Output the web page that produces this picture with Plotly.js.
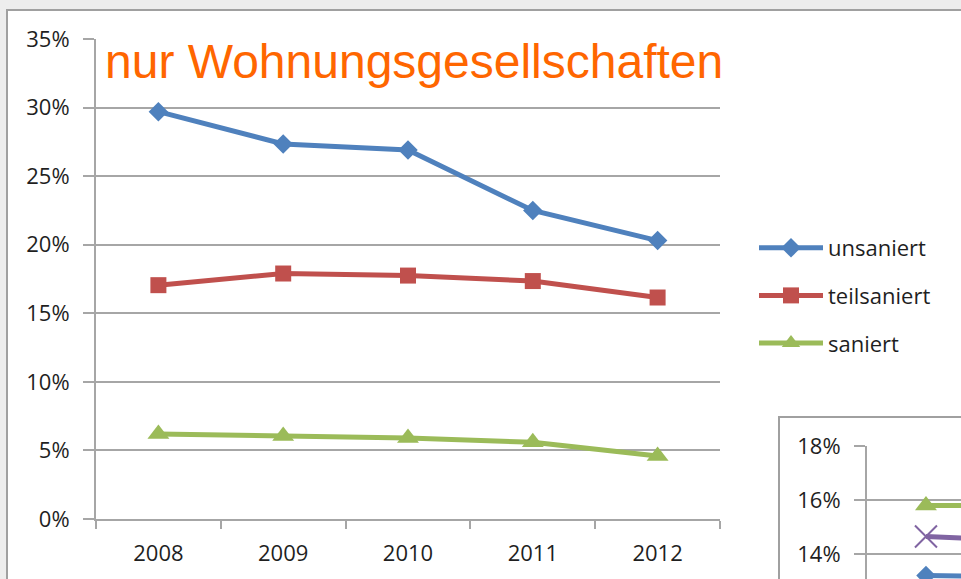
<!DOCTYPE html>
<html>
<head>
<meta charset="utf-8">
<script src="https://cdn.plot.ly/plotly-3.0.1.min.js"></script>
<style>html,body{margin:0;padding:0;background:#ededed;}#chart{width:961px;height:579px;}</style>
</head>
<body>
<div id="chart"></div>
<script>
// Main chart data (percent)
var years = ['2008', '2009', '2010', '2011', '2012'];
var unsaniert = [29.7, 27.35, 26.9, 22.5, 20.3];
var teilsaniert = [17.05, 17.9, 17.75, 17.35, 16.15];
var saniert = [6.2, 6.05, 5.9, 5.6, 4.6];
var yTicks = [0, 5, 10, 15, 20, 25, 30, 35];
var yTickLabels = ['0%', '5%', '10%', '15%', '20%', '25%', '30%', '35%'];

// Inset chart (partially visible, bottom right)
var insetX = [0, 1];
var insetGreen = [15.8, 15.8];
var insetPurple = [14.65, 14.45];
var insetBlue = [13.2, 13.15];
var insetTicks = [14, 16, 18];
var insetTickLabels = ['14%', '16%', '18%'];

var W = 961, H = 579;
function px(x) { return x / W; }
function py(y) { return (H - y) / H; }

var labelFont = {family: 'Open Sans, sans-serif', size: 22, color: '#1f1f1f'};
var gridCol = '#a6a6a6';

var traces = [
  {x: years, y: unsaniert, name: 'unsaniert', type: 'scatter', mode: 'lines+markers', legendgroup: 'a',
   line: {color: '#4F81BD', width: 5}, marker: {symbol: 'diamond', size: 15, color: '#4F81BD'}},
  {x: years, y: teilsaniert, name: 'teilsaniert', type: 'scatter', mode: 'lines+markers', legendgroup: 'b',
   line: {color: '#C0504D', width: 5}, marker: {symbol: 'square', size: 16, color: '#C0504D'}},
  {x: years, y: saniert, name: 'saniert', type: 'scatter', mode: 'lines+markers', legendgroup: 'c',
   line: {color: '#9BBB59', width: 5}, marker: {symbol: 'triangle-up', size: 19, color: '#9BBB59'}},
  {x: insetX, y: insetGreen, xaxis: 'x2', yaxis: 'y2', type: 'scatter', mode: 'lines+markers', showlegend: false,
   line: {color: '#9BBB59', width: 5}, marker: {symbol: 'triangle-up', size: 19, color: '#9BBB59'}},
  {x: insetX, y: insetPurple, xaxis: 'x2', yaxis: 'y2', type: 'scatter', mode: 'lines+markers', showlegend: false,
   line: {color: '#8064A2', width: 5}, marker: {symbol: 'x-thin', size: 22, color: '#8064A2', line: {color: '#8064A2', width: 2}}},
  {x: insetX, y: insetBlue, xaxis: 'x2', yaxis: 'y2', type: 'scatter', mode: 'lines+markers', showlegend: false,
   line: {color: '#4F81BD', width: 5}, marker: {symbol: 'diamond', size: 15, color: '#4F81BD'}}
];

var layout = {
  width: W, height: H,
  margin: {l: 0, r: 0, t: 0, b: 0},
  paper_bgcolor: '#ededed',
  plot_bgcolor: 'rgba(0,0,0,0)',
  showlegend: true,
  xaxis: {
    type: 'category', domain: [px(96), px(720)], range: [-0.5, 4.5],
    tickson: 'boundaries', ticks: 'outside', ticklen: 8, tickwidth: 2, tickcolor: gridCol,
    showline: true, linecolor: gridCol, linewidth: 2, showgrid: false, zeroline: false,
    tickfont: labelFont, ticklabelstandoff: 14, fixedrange: true
  },
  yaxis: {
    domain: [py(519), py(39)], range: [0, 35], tickmode: 'array', tickvals: yTicks, ticktext: yTickLabels,
    ticks: 'outside', ticklen: 11, tickwidth: 2, tickcolor: gridCol,
    showline: true, linecolor: gridCol, linewidth: 2,
    showgrid: true, gridcolor: gridCol, gridwidth: 2, zeroline: false,
    tickfont: labelFont, ticklabelstandoff: 9, fixedrange: true
  },
  xaxis2: {
    anchor: 'y2', domain: [px(867), 1], range: [-0.5, 0.297],
    showline: false, showgrid: false, zeroline: false, showticklabels: false, ticks: '', fixedrange: true
  },
  yaxis2: {
    anchor: 'x2', domain: [0, py(446)], range: [13.074, 18], tickmode: 'array', tickvals: insetTicks, ticktext: insetTickLabels,
    ticks: 'outside', ticklen: 11, tickwidth: 2, tickcolor: gridCol,
    showline: true, linecolor: gridCol, linewidth: 2,
    showgrid: true, gridcolor: gridCol, gridwidth: 2, zeroline: false,
    tickfont: labelFont, ticklabelstandoff: 9, fixedrange: true
  },
  legend: {
    x: px(754), y: py(227), xanchor: 'left', yanchor: 'top',
    font: labelFont, bgcolor: 'rgba(0,0,0,0)', tracegroupgap: 16, itemwidth: 64
  },
  shapes: [
    {type: 'rect', xref: 'paper', yref: 'paper', x0: px(7), x1: 1.05, y0: -0.05, y1: py(10),
     fillcolor: '#ffffff', line: {color: '#a0a0a0', width: 2}, layer: 'below'},
    {type: 'rect', xref: 'paper', yref: 'paper', x0: px(779), x1: 1.05, y0: -0.05, y1: py(417),
     fillcolor: '#ffffff', line: {color: '#a0a0a0', width: 2}, layer: 'below'}
  ],
  annotations: [
    {text: 'nur Wohnungsgesellschaften', xref: 'paper', yref: 'paper', x: px(103), y: py(62),
     xanchor: 'left', yanchor: 'middle', showarrow: false,
     font: {family: 'Liberation Sans, Arial, sans-serif', size: 48, color: '#FF6600'}}
  ]
};

Plotly.newPlot('chart', traces, layout, {displayModeBar: false, staticPlot: true});
</script>
</body>
</html>
